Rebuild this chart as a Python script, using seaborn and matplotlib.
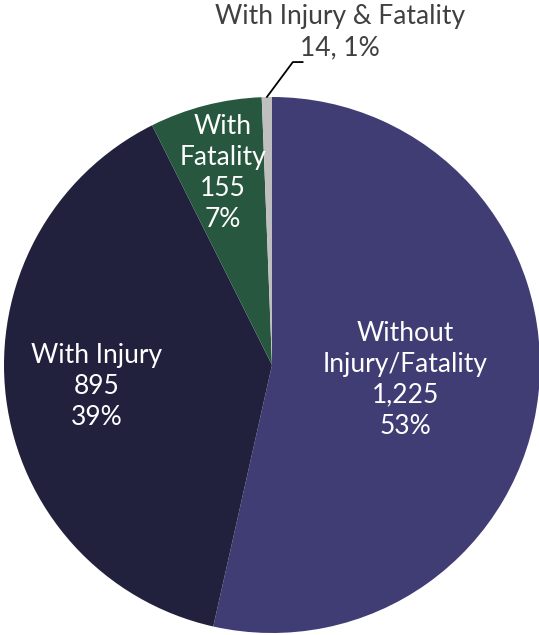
import numpy as np
import seaborn as sns
import matplotlib.pyplot as plt

sns.set_theme(style="white")
plt.rcParams['font.family'] = ['Lato', 'DejaVu Sans']

categories = ['Without\nInjury/Fatality', 'With Injury', 'With\nFatality', 'With Injury & Fatality']
counts = [1225, 895, 155, 14]
percents = [53, 39, 7, 1]
colors = ['#403d75', '#22213d', '#27573f', '#bfbfbf']
label_dist = [0.5, 0.66, 0.74]

fig = plt.figure(figsize=(5.39, 6.35), dpi=100)
ax = fig.add_axes([0, 0, 1, 1])
cx, cy, R = 272, 270, 268

wedges, _ = ax.pie(counts, colors=colors, startangle=90, counterclock=False,
                   center=(cx, cy), radius=R, wedgeprops=dict(linewidth=0))

for i in range(3):
    w = wedges[i]
    mid = np.deg2rad((w.theta1 + w.theta2) / 2)
    x = cx + label_dist[i] * R * np.cos(mid)
    y = cy + label_dist[i] * R * np.sin(mid)
    ax.text(x, y, f"{categories[i]}\n{counts[i]:,}\n{percents[i]}%", ha='center', va='center',
            color='white', fontsize=19, linespacing=1.3)

# small slice label with leader line
w = wedges[3]
mid = np.deg2rad((w.theta1 + w.theta2) / 2)
x0 = cx + R * np.cos(mid)
y0 = cy + R * np.sin(mid)
ax.plot([x0, x0 + 26, x0 + 36], [y0, y0 + 35, y0 + 35], color='black', lw=1.3)
ax.text(340, 603, f"{categories[3]}\n{counts[3]}, {percents[3]}%", ha='center', va='center',
        color='#404040', fontsize=19, linespacing=1.3)

ax.set_xlim(0, 539)
ax.set_ylim(0, 635)
ax.set_aspect('equal')
ax.axis('off')

plt.savefig('out.png', dpi=100)
